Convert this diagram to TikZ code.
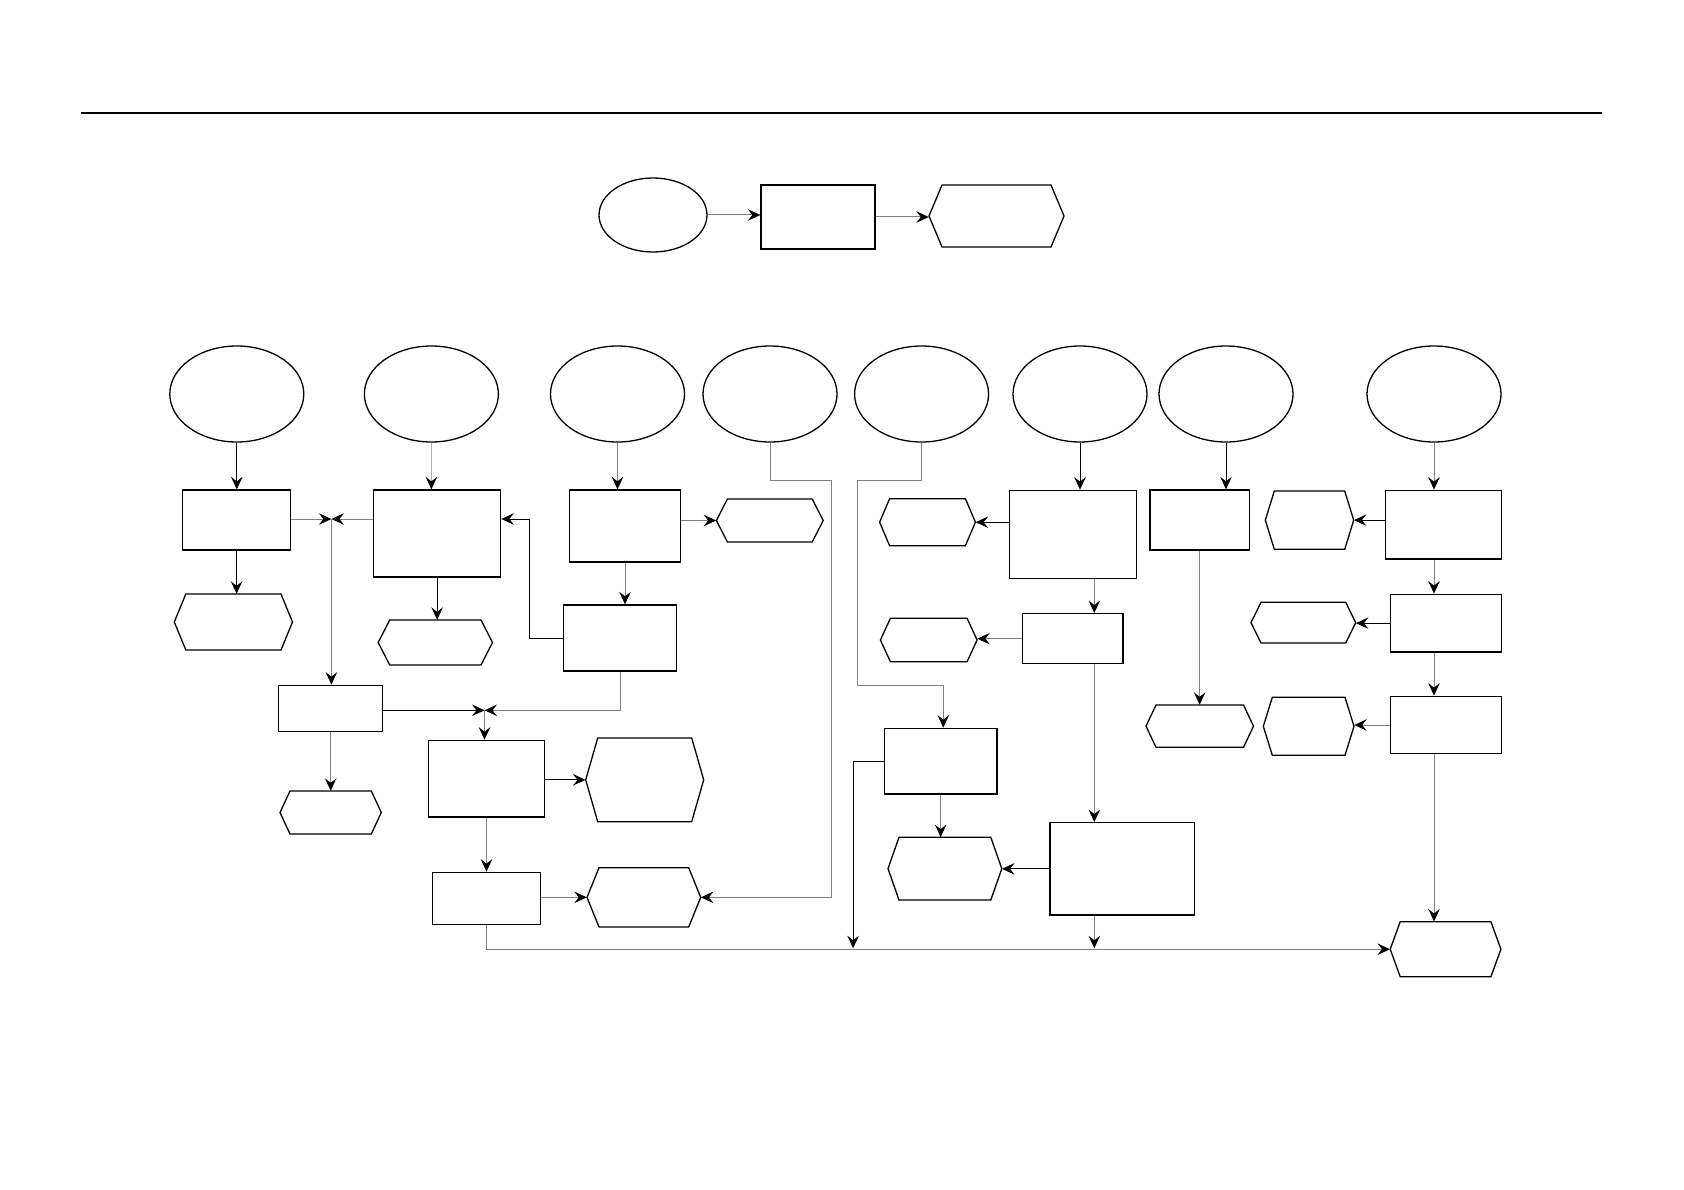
\documentclass[tikz,border=0pt]{standalone}
\usetikzlibrary{arrows.meta,fit,shapes.geometric}
\newcommand\rbox[5]{\node[bx,fit={(#2,#3) (#4,#5)}] (#1) {};}
\newcommand\hexn[6]{%
  \node[inner sep=0pt,fit={(#2,#3) (#4,#5)}] (#1) {};
  \draw[hx] ({#2+#6},#3) -- ({#4-#6},#3) -- (#4,{(#3+#5)/2}) -- ({#4-#6},#5) -- ({#2+#6},#5) -- (#2,{(#3+#5)/2}) -- cycle;}
\begin{document}
\begin{tikzpicture}[x=1pt,y=-1pt,
  shp/.style={draw=black,line width=1.3pt,fill=white},
  bx/.style={shp,rectangle,inner sep=0pt},
  hx/.style={draw=black,line width=1.3pt,line join=miter},
  el/.style={shp,ellipse,inner sep=0pt,minimum width=134pt,minimum height=96pt},
  tip/.style={-{Stealth[length=12.5pt,width=11.5pt,inset=4.5pt,color=black]}},
  cg/.style={draw=black!50,line width=1pt,tip},
  cl/.style={draw=black!30,line width=1.2pt,tip},
  ck/.style={draw=black,line width=1pt,tip}]
\useasboundingbox (0,0) rectangle (1684,1190);
\draw[line width=1.4pt] (81,113) -- (1602,113);
% top row
\node[shp,ellipse,inner sep=0pt,minimum width=108pt,minimum height=74pt] (e0) at (653,215) {};
\rbox{r0}{761}{185}{875}{249}
\hexn{h0}{929}{185}{1064}{247}{13}
% ellipses
\node[el] (E1) at (236.8,394) {};
\node[el] (E2) at (431.4,394) {};
\node[el] (E3) at (617.5,394) {};
\node[el] (E4) at (770,394) {};
\node[el] (E5) at (921.6,394) {};
\node[el] (E6) at (1080,394) {};
\node[el] (E7) at (1226,394) {};
\node[el] (E8) at (1434,394) {};
% boxes
\rbox{A}{182.5}{490}{290.7}{550}
\rbox{B}{373.6}{490}{500.7}{577}
\rbox{D}{569.3}{490}{680.7}{562}
\rbox{E}{563.6}{605}{676.4}{671}
\rbox{C}{278.7}{685.3}{382.7}{731.7}
\rbox{M}{428.7}{740.3}{544.3}{817}
\rbox{N}{432.3}{872.3}{540.7}{924.3}
\rbox{F}{1009.6}{490.3}{1136.8}{578.3}
\rbox{G}{1022.5}{613.7}{1122.9}{663.7}
\rbox{P}{884.4}{728.3}{996.9}{794}
\rbox{Q}{1050}{822.7}{1194.6}{915}
\rbox{I}{1150}{490}{1249.3}{550}
\rbox{J}{1385.3}{490.3}{1501.3}{559}
\rbox{K}{1390.7}{594.3}{1501.3}{652}
\rbox{L}{1390.7}{696.3}{1501.3}{753.7}
% hexagons
\hexn{hA}{174.3}{594}{292.5}{650}{11.5}
\hexn{hB}{378.2}{620}{492.5}{665}{11.5}
\hexn{hD}{716.4}{499}{823.2}{542}{11}
\hexn{hF}{879.6}{498.7}{975.4}{545.7}{10}
\hexn{hG}{880.4}{618.3}{977.1}{661.7}{10}
\hexn{hC}{280}{791}{381.3}{834}{10}
\hexn{hM}{585.7}{738}{703.7}{821.7}{12}
\hexn{hN}{587}{867.7}{700.7}{927}{12}
\hexn{hP}{888}{837.3}{1001.8}{900}{11}
\hexn{hI}{1146}{705}{1253.5}{747.3}{10}
\hexn{hJ}{1265.3}{491}{1353.7}{549.3}{9}
\hexn{hK}{1251}{602.3}{1355.7}{643}{10}
\hexn{hL}{1263.3}{697.3}{1354}{755.3}{9}
\hexn{hZ}{1390.2}{921.7}{1500.9}{976.7}{10}
% helper coordinates
\coordinate (j1) at (331.4,519);
\coordinate (eb) at (529.3,519);
\coordinate (j2) at (484.5,710.3);
\coordinate (k4) at (831.4,480);
\coordinate (k5a) at (857.5,480);
\coordinate (k5b) at (943.3,685);
\coordinate (gx) at (1094.3,600);
\coordinate (kb1) at (853.1,948.3);
\coordinate (kb2) at (1094.3,948.3);
% connectors
\draw[cg] (e0.east) -- (e0.east -| r0.west);
\draw[cg] (r0.east) -- (r0.east -| h0.west);
\draw[ck] (E1.south) -- (E1.south |- A.north);
\draw[ck] (A.south) -- (A.south |- hA.north);
\draw[cg] (A.east |- j1) -- (j1);
\draw[cg] (B.west |- j1) -- (j1);
\draw[cg] (j1) -- (j1 |- C.north);
\draw[cl] (E2.south) -- (E2.south |- B.north);
\draw[ck] (B.south) -- (B.south |- hB.north);
\draw[cg] (E3.south) -- (E3.south |- D.north);
\draw[cg] (D.south) -- (D.south |- E.north);
\draw[ck] (E.west) -| (eb) -- (eb -| B.east);
\draw[cg] (D.east |- hD.west) -- (hD.west);
\draw[ck] (C.east |- j2) -- (j2);
\draw[cg] (E.south) |- (j2);
\draw[cg] (j2) -- (j2 |- M.north);
\draw[cg] (C.south) -- (C.south |- hC.north);
\draw[ck] (M.east |- hM.west) -- (hM.west);
\draw[cg] (M.south) -- (M.south |- N.north);
\draw[cg] (N.east |- hN.west) -- (hN.west);
\draw[cg] (N.south) |- (hZ.west);
\draw[cg] (E4.south) |- (k4) |- (hN.east);
\draw[cg] (E5.south) |- (k5a) |- (k5b) -- (k5b |- P.north);
\draw[ck] (E6.south) -- (E6.south |- F.north);
\draw[ck] (F.west |- hF.east) -- (hF.east);
\draw[cg] (gx |- F.south) -- (gx |- G.north);
\draw[cg] (G.west) -- (G.west -| hG.east);
\draw[cg] (gx |- G.south) -- (gx |- Q.north);
\draw[ck] (Q.west) -- (Q.west -| hP.east);
\draw[cg] (P.south) -- (P.south |- hP.north);
\draw[ck] (P.west) -| (kb1);
\draw[cg] (gx |- Q.south) -- (kb2);
\draw[ck] (E7.south) -- (E7.south |- I.north);
\draw[cg] (I.south) -- (I.south |- hI.north);
\draw[cg] (E8.south) -- (E8.south |- J.north);
\draw[ck] (J.west |- hJ.east) -- (hJ.east);
\draw[cg] (E8.south |- J.south) -- (E8.south |- K.north);
\draw[ck] (K.west) -- (K.west -| hK.east);
\draw[cg] (E8.south |- K.south) -- (E8.south |- L.north);
\draw[cg] (L.west) -- (L.west -| hL.east);
\draw[cg] (E8.south |- L.south) -- (E8.south |- hZ.north);
\end{tikzpicture}
\end{document}
